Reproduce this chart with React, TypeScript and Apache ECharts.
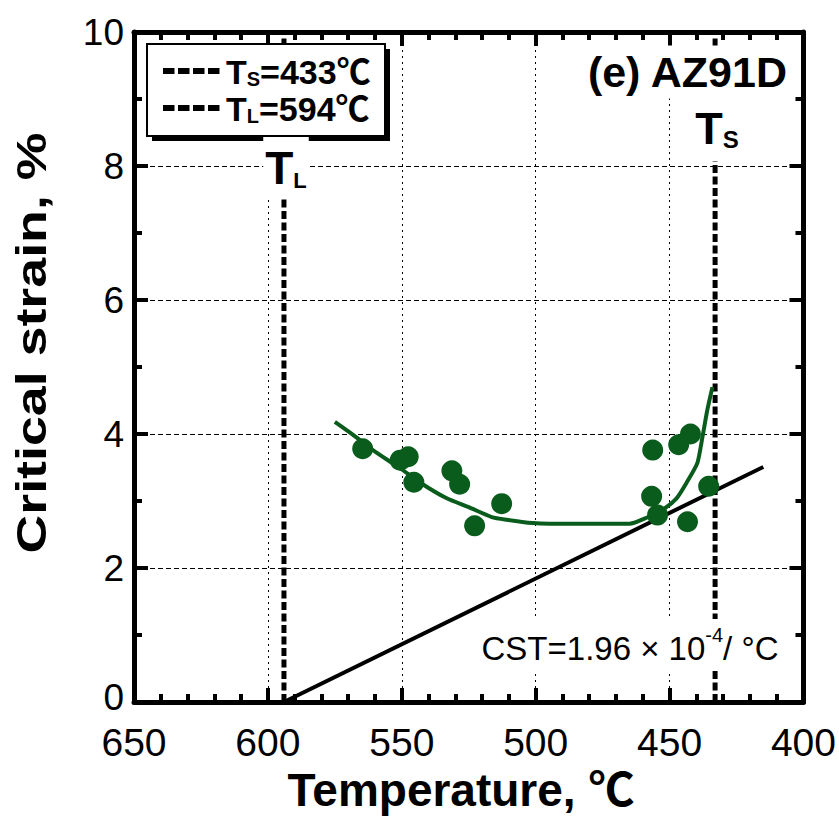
import React, { useEffect, useRef } from "react";
import * as echarts from "echarts";

// Measured critical strain (%) against temperature (°C), AZ91D
const pointTemp = [564.6, 550.6, 547.6, 545.5, 531.3, 528.4, 522.8, 512.7, 456.3, 456.7, 454.5, 446.6, 442.2, 443.3, 435.4];
const pointStrain = [3.78, 3.61, 3.66, 3.28, 3.45, 3.25, 2.63, 2.96, 3.76, 3.07, 2.79, 3.84, 4.0, 2.69, 3.22];

// Trend curve through the measurements
const curveTemp = [575.0, 568.3, 560.8, 550.7, 542.2, 533.2, 524.6, 516.4, 510.8, 501.1, 494.8, 476.1, 464.9, 458.6, 452.6, 447.4, 443.7, 439.6, 437.7, 435.9, 434.0];
const curveStrain = [4.18, 3.99, 3.76, 3.49, 3.25, 3.04, 2.9, 2.76, 2.72, 2.67, 2.66, 2.66, 2.66, 2.75, 2.87, 3.04, 3.27, 3.57, 3.96, 4.36, 4.7];

// Solidus / liquidus temperatures
const TS = 433;
const TL = 594;

// Critical strain rate for temperature (fraction per °C)
const CST = 1.96e-4;
const cstLineTemp = [TL, 415];

const xTicks = [400, 450, 500, 550, 600, 650];
const yTicks = [0, 2, 4, 6, 8, 10];

const FONT = "'Liberation Sans', Arial, 'Noto Sans CJK JP', sans-serif";
const GREEN = "#0a5c1c";

// Rich-text styles for a large letter followed by a smaller, baseline-aligned letter
function pairStyles(big: number, small: number, lh: number) {
  const smallLh = 2 * (lh / 2 - 0.33 * big + 0.33 * small);
  return {
    a: { fontSize: big, fontWeight: "bold", fontFamily: FONT, fill: "#000", verticalAlign: "bottom", lineHeight: lh },
    b: { fontSize: small, fontWeight: "bold", fontFamily: FONT, fill: "#000", verticalAlign: "bottom", lineHeight: smallLh },
  };
}

export default function App() {
  const ref = useRef<HTMLDivElement>(null);

  useEffect(() => {
    if (!ref.current) return;
    const chart = echarts.init(ref.current, undefined, { renderer: "svg" });

    const points = pointTemp.map((t, i) => [t, pointStrain[i]]);
    const curve = curveTemp.map((t, i) => [t, curveStrain[i]]);
    const cstLine = cstLineTemp.map((t) => [t, (TL - t) * CST * 100]);

    const axisLine = { show: true, onZero: false, lineStyle: { color: "#000", width: 5 } };
    const tick = { show: true, inside: true, length: 14, lineStyle: { color: "#000", width: 4 } };
    const minorX = { show: true, splitNumber: 5, length: 8, lineStyle: { color: "#000", width: 4 } };
    const minorY = { show: true, splitNumber: 2, length: 8, lineStyle: { color: "#000", width: 4 } };

    const xBase = {
      type: "value",
      min: xTicks[0],
      max: xTicks[xTicks.length - 1],
      interval: 50,
      inverse: true,
      axisLine,
      axisTick: tick,
      minorTick: minorX,
    };
    const yBase = {
      type: "value",
      min: yTicks[0],
      max: yTicks[yTicks.length - 1],
      interval: 2,
      axisLine,
      axisTick: tick,
      minorTick: minorY,
    };

    const whiteBg = { backgroundColor: "#fff" };

    chart.setOption({
      animation: false,
      grid: { left: 134, right: 35, top: 32, bottom: 121, containLabel: false },
      xAxis: [
        {
          ...xBase,
          position: "bottom",
          axisLabel: { color: "#000", fontSize: 39, fontFamily: FONT, lineHeight: 32, margin: 24 },
          splitLine: { show: true, lineStyle: { color: "#000", width: 1, type: [2, 4] } },
        },
        { ...xBase, position: "top", axisLabel: { show: false }, splitLine: { show: false } },
      ],
      yAxis: [
        {
          ...yBase,
          position: "left",
          axisLabel: {
            color: "#000",
            fontSize: 37,
            fontFamily: FONT,
            lineHeight: 32,
            margin: 10,
            // the zero label sits slightly above the axis line
            formatter: (v: number) => (v === 0 ? "{z|0}" : String(v)),
            rich: { z: { fontSize: 37, fontFamily: FONT, color: "#000", padding: [0, 0, 9, 0] } },
          },
          splitLine: { show: true, lineStyle: { color: "#000", width: 1, type: [5, 3] } },
        },
        { ...yBase, position: "right", axisLabel: { show: false }, splitLine: { show: false } },
      ],
      series: [
        {
          type: "line",
          data: [[TL, 0], [TL, 10]],
          symbol: "none",
          lineStyle: { color: "#000", width: 5, type: [8, 3.5] },
          z: 3,
        },
        {
          type: "line",
          data: [[TS, 0], [TS, 10]],
          symbol: "none",
          lineStyle: { color: "#000", width: 5, type: [8, 3.5] },
          z: 3,
        },
        {
          type: "line",
          data: cstLine,
          symbol: "none",
          lineStyle: { color: "#000", width: 4 },
          z: 4,
        },
        {
          type: "line",
          data: curve,
          symbol: "none",
          smooth: 0.2,
          lineStyle: { color: GREEN, width: 4 },
          z: 5,
        },
        {
          type: "scatter",
          data: points,
          symbolSize: 21,
          itemStyle: { color: GREEN, opacity: 1 },
          z: 6,
        },
      ],
      graphic: [
        // legend box with drop shadow
        { type: "rect", z: 100, shape: { x: 152, y: 49, width: 238, height: 92 }, style: { fill: "#000" } },
        { type: "rect", z: 101, shape: { x: 147, y: 44, width: 238, height: 92 }, style: { fill: "#fff", stroke: "#000", lineWidth: 2 } },
        { type: "line", z: 102, shape: { x1: 163, y1: 71, x2: 220, y2: 71 }, style: { stroke: "#000", lineWidth: 6, lineDash: [11.5, 3.5] } },
        { type: "line", z: 102, shape: { x1: 163, y1: 108, x2: 220, y2: 108 }, style: { stroke: "#000", lineWidth: 6, lineDash: [11.5, 3.5] } },
        {
          type: "text",
          z: 102,
          x: 226,
          y: 71,
          style: { text: "{a|T}{b|S}{a|=433℃}", verticalAlign: "middle", rich: pairStyles(34, 20, 36) },
        },
        {
          type: "text",
          z: 102,
          x: 226,
          y: 108,
          style: { text: "{a|T}{b|L}{a|=594℃}", verticalAlign: "middle", rich: pairStyles(34, 20, 36) },
        },
        // panel title
        {
          type: "text",
          z: 100,
          x: 791,
          y: 72,
          style: {
            text: "(e) AZ91D",
            align: "right",
            verticalAlign: "middle",
            fontSize: 43,
            fontWeight: "bold",
            fontFamily: FONT,
            fill: "#000",
            ...whiteBg,
            padding: [4, 4, 6, 4],
          },
        },
        // TL / TS markers
        {
          type: "text",
          z: 100,
          x: 286,
          y: 168,
          style: {
            text: "{a|T}{b|L}",
            align: "center",
            verticalAlign: "middle",
            ...whiteBg,
            padding: [8, 2, 8, 2],
            rich: pairStyles(46, 22, 46),
          },
        },
        {
          type: "text",
          z: 100,
          x: 717,
          y: 127,
          style: {
            text: "{a|T}{b|S}",
            align: "center",
            verticalAlign: "middle",
            ...whiteBg,
            padding: [12, 2, 10, 2],
            rich: pairStyles(45, 24, 46),
          },
        },
        // CST annotation
        {
          type: "text",
          z: 100,
          x: 630,
          y: 645,
          style: {
            text: "{a|CST=1.96 × 10}{s|-4}{a|/ °C}",
            align: "center",
            verticalAlign: "middle",
            ...whiteBg,
            padding: [6, 4, 6, 4],
            rich: {
              a: { fontSize: 33, fontFamily: FONT, fill: "#000", verticalAlign: "bottom", lineHeight: 40 },
              s: { fontSize: 20, fontFamily: FONT, fill: "#000", verticalAlign: "top", lineHeight: 36 },
            },
          },
        },
        // axis titles
        {
          type: "text",
          z: 100,
          x: 461,
          y: 790,
          style: {
            text: "Temperature, ℃",
            align: "center",
            verticalAlign: "middle",
            fontSize: 46,
            fontWeight: "bold",
            fontFamily: FONT,
            fill: "#000",
          },
        },
        {
          type: "text",
          z: 100,
          x: 31,
          y: 343,
          rotation: Math.PI / 2,
          scaleX: 1.25,
          style: {
            text: "Critical strain, %",
            align: "center",
            verticalAlign: "middle",
            fontSize: 43,
            fontWeight: "bold",
            fontFamily: FONT,
            fill: "#000",
          },
        },
      ],
    });

    return () => chart.dispose();
  }, []);

  return (
    <div
      ref={ref}
      style={{ position: "fixed", left: 0, top: 0, width: 839, height: 823, background: "#fff" }}
    />
  );
}
